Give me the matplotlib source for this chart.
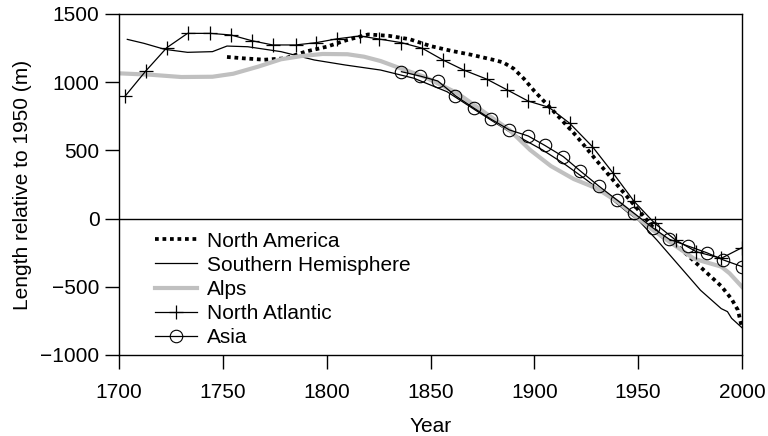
import matplotlib.pyplot as plt

plt.rcParams['font.family'] = ['Liberation Sans', 'DejaVu Sans']

# North America (dotted)
nam_year = [1752, 1760, 1770, 1780, 1790, 1800, 1810, 1820, 1830, 1840, 1850, 1860,
            1870, 1880, 1885, 1890, 1895, 1900, 1910, 1920, 1930, 1940, 1950, 1960,
            1970, 1980, 1990, 1995, 1998, 2000]
nam_len = [1185, 1175, 1165, 1175, 1225, 1260, 1310, 1350, 1340, 1315, 1265, 1230,
           1200, 1165, 1145, 1100, 1025, 935, 775, 610, 425, 245, 65, -115,
           -215, -355, -495, -590, -670, -800]

# Southern Hemisphere (thin line)
sh_year = [1704, 1712, 1722, 1733, 1745, 1752, 1762, 1778, 1794, 1809, 1826, 1842,
           1858, 1874, 1888, 1904, 1915, 1925, 1935, 1945, 1950, 1959, 1970, 1980,
           1990, 1993, 1995, 2000]
sh_len = [1314, 1285, 1241, 1219, 1224, 1265, 1260, 1224, 1163, 1126, 1089, 1029,
          930, 772, 637, 503, 395, 285, 170, 45, -10, -157, -350, -525,
          -660, -682, -731, -800]

# Alps (thick grey)
alps_year = [1700, 1715, 1730, 1745, 1755, 1767, 1778, 1788, 1798, 1810, 1818, 1826,
             1834, 1847, 1863, 1879, 1888, 1898, 1908, 1919, 1930, 1940, 1948, 1957,
             1967, 1977, 1990, 1994, 2000]
alps_len = [1065, 1055, 1038, 1040, 1062, 1114, 1168, 1192, 1207, 1205, 1187, 1155,
            1110, 1040, 919, 747, 650, 503, 385, 290, 222, 124, 27, -83,
            -190, -295, -352, -401, -500]

# North Atlantic (plus markers)
nat_year = [1703, 1713, 1723, 1733, 1744, 1754, 1764, 1774, 1785, 1795, 1805, 1816,
            1825, 1836, 1846, 1856, 1866, 1877, 1887, 1897, 1907, 1917, 1928, 1938,
            1948, 1958, 1968, 1978, 1990, 2000]
nat_len = [899, 1084, 1253, 1358, 1358, 1346, 1304, 1273, 1273, 1290, 1318, 1339,
           1317, 1290, 1249, 1163, 1089, 1023, 943, 862, 816, 699, 527, 332,
           127, -35, -157, -243, -291, -213]

# Asia (circle markers)
asia_year = [1836, 1845, 1853.5, 1862, 1871, 1879, 1888, 1897, 1905, 1914, 1922,
             1931, 1940, 1948, 1957, 1965, 1974, 1983, 1991, 2000]
asia_len = [1077, 1045, 1009, 901, 809, 730, 650, 606, 537, 454, 351,
            239, 134, 39, -67, -152, -201, -250, -303, -352]

fig = plt.figure(figsize=(7.68, 4.36), dpi=100)
ax = fig.add_axes([119 / 768, 1 - 355 / 436, 623 / 768, 341 / 436])

ax.axhline(0, color="black", linewidth=1)
ax.plot(nam_year, nam_len, color="black", linestyle=(0, (1, 1)), linewidth=2.7,
        label="North America")
ax.plot(sh_year, sh_len, color="black", linewidth=0.9, label="Southern Hemisphere")
ax.plot(alps_year, alps_len, color="#c0c0c0", linewidth=3, label="Alps")
ax.plot(nat_year, nat_len, color="black", linewidth=0.9, marker="+",
        markersize=10, markeredgewidth=0.9, label="North Atlantic")
ax.plot(asia_year, asia_len, color="black", linewidth=0.9, marker="o",
        markersize=9, markerfacecolor="none", markeredgewidth=0.8, label="Asia")

ax.set_xlim(1700, 2000)
ax.set_ylim(-1000, 1500)
ax.set_xticks([1700, 1750, 1800, 1850, 1900, 1950, 2000])
ax.set_yticks([-1000, -500, 0, 500, 1000, 1500])
ax.tick_params(direction="out", length=10, width=1, labelsize=15)
ax.tick_params(axis="x", pad=10)
ax.tick_params(axis="y", pad=4)
for s in ax.spines.values():
    s.set_linewidth(1)

ax.set_xlabel("Year", fontsize=15, labelpad=11)
ax.set_ylabel("Length relative to 1950 (m)", fontsize=15, labelpad=6)

ax.legend(loc="upper left", bbox_to_anchor=(0.058, 0.362), frameon=False,
          fontsize=15, handlelength=2.0, handletextpad=0.5, labelspacing=0.25,
          borderaxespad=0, borderpad=0)

plt.savefig("out.png", dpi=100)
